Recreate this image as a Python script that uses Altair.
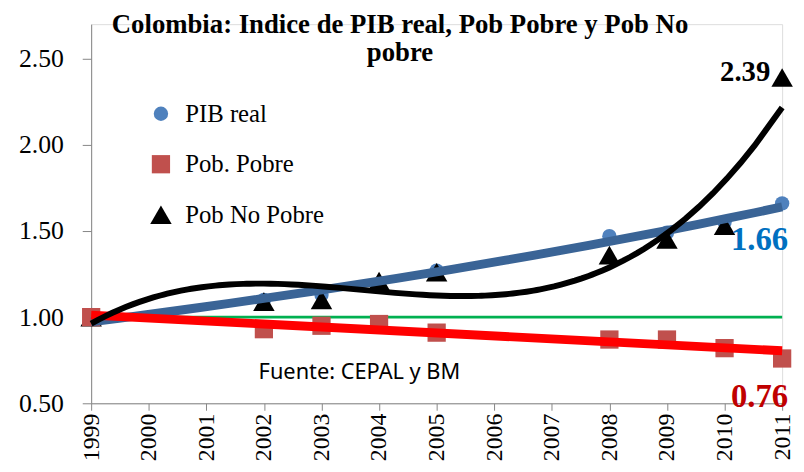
import altair as alt
import pandas as pd

years = [1999, 2002, 2003, 2004, 2005, 2008, 2009, 2010, 2011]
pib_real = [1.00, 1.10, 1.13, 1.19, 1.27, 1.47, 1.49, 1.55, 1.66]
pob_pobre = [1.00, 0.93, 0.95, 0.96, 0.91, 0.87, 0.87, 0.82, 0.76]
pob_no_pobre = [1.00, 1.09, 1.10, 1.21, 1.26, 1.36, 1.45, 1.53, 2.39]

series_names = ["PIB real", "Pob. Pobre", "Pob No Pobre"]
series_values = [pib_real, pob_pobre, pob_no_pobre]
marker_colors = ["#4F81BD", "#C0504D", "#000000"]
marker_shapes = ["circle", "square", "triangle-up"]
marker_sizes = [210, 470, 420]

fuente_text = ["Fuente: CEPAL y BM"]
base_line = [1.0]

rows = []
for name, vals in zip(series_names, series_values):
    for y, v in zip(years, vals):
        rows.append({"anio": y, "valor": v, "serie": name})
df = pd.DataFrame(rows)

SERIF = "Liberation Serif"

x_enc = alt.X("anio:Q", scale=alt.Scale(domain=[1999, 2011], nice=False, zero=False),
              axis=alt.Axis(values=list(range(1999, 2012)), format="d", title=None,
                            labelAngle=-90, labelFont=SERIF, labelFontSize=24,
                            labelColor="#000000", labelPadding=3, tickSize=7,
                            tickColor="#868686", domainColor="#868686", grid=False,
                            labelFlush=False, labelOverlap=False))
y_enc = alt.Y("valor:Q", scale=alt.Scale(domain=[0.5, 2.7], nice=False, zero=False),
              axis=alt.Axis(values=[0.5, 1.0, 1.5, 2.0, 2.5], format=".2f", title=None,
                            labelFont=SERIF, labelFontSize=26, labelColor="#000000",
                            labelPadding=19, tickSize=9, tickColor="#868686",
                            domainColor="#868686", grid=False, labelFlush=False))

base = alt.Chart(df)

green = alt.Chart(pd.DataFrame({"nivel": base_line})).mark_rule(
    color="#00B050", strokeWidth=3
).encode(x=alt.datum(1999), x2=alt.datum(2011), y="nivel:Q")

markers = base.mark_point(filled=True, opacity=1).encode(
    x=x_enc, y=y_enc,
    color=alt.Color("serie:N", scale=alt.Scale(domain=series_names, range=marker_colors),
                    legend=alt.Legend(title=None, orient="none", legendX=58, legendY=78,
                                      labelFont=SERIF, labelFontSize=25, labelColor="#000000",
                                      symbolSize=220, symbolOpacity=1, rowPadding=25,
                                      labelOffset=12, symbolStrokeWidth=0)),
    shape=alt.Shape("serie:N", scale=alt.Scale(domain=series_names, range=marker_shapes)),
    size=alt.Size("serie:N", scale=alt.Scale(domain=series_names, range=marker_sizes), legend=None),
    order=alt.Order("serie:N"),
)

blue_fit = base.transform_filter(alt.datum.serie == "PIB real").transform_regression(
    "anio", "valor", method="exp"
).mark_line(color="#3A6496", strokeWidth=9).encode(x="anio:Q", y="valor:Q")

red_fit = base.transform_filter(alt.datum.serie == "Pob. Pobre").transform_regression(
    "anio", "valor", method="linear"
).mark_line(color="#FF0000", strokeWidth=9).encode(x="anio:Q", y="valor:Q")

black_fit = base.transform_filter(alt.datum.serie == "Pob No Pobre").transform_regression(
    "anio", "valor", method="poly", order=3
).mark_line(color="#000000", strokeWidth=6).encode(x="anio:Q", y="valor:Q")

last = base.transform_filter(alt.datum.anio == 2011)

lab_nopobre = last.transform_filter(alt.datum.serie == "Pob No Pobre").mark_text(
    font=SERIF, fontSize=29, fontWeight="bold", color="#000000", align="right",
    baseline="middle", dx=-12, dy=-6
).encode(x="anio:Q", y="valor:Q", text=alt.Text("valor:Q", format=".2f"))

lab_pib = last.transform_filter(alt.datum.serie == "PIB real").mark_text(
    font=SERIF, fontSize=33, fontWeight="bold", color="#0070C0", align="right",
    baseline="middle", dx=6, dy=37
).encode(x="anio:Q", y="valor:Q", text=alt.Text("valor:Q", format=".2f"))

lab_pobre = last.transform_filter(alt.datum.serie == "Pob. Pobre").mark_text(
    font=SERIF, fontSize=33, fontWeight="bold", color="#C00000", align="right",
    baseline="middle", dx=6, dy=39
).encode(x="anio:Q", y="valor:Q", text=alt.Text("valor:Q", format=".2f"))

fuente = alt.Chart(pd.DataFrame({"t": fuente_text})).mark_text(
    font="Noto Sans", fontSize=22, fontWeight="normal", color="#000000",
    align="center", baseline="middle"
).encode(x=alt.value(271), y=alt.value(351), text="t:N")

chart = alt.layer(
    green, markers, blue_fit, red_fit, black_fit, lab_nopobre, lab_pib, lab_pobre, fuente
).properties(
    width=698, height=383,
    title=alt.TitleParams(
        text=["Colombia: Indice de PIB real, Pob Pobre y Pob No", "pobre"],
        font=SERIF, fontSize=27, fontWeight="bold", color="#000000",
        anchor="middle", dx=-37, lineHeight=28, offset=0, dy=43,
    ),
    autosize=alt.AutoSizeParams(type="none"),
    padding={"left": 84, "top": 14, "right": 14, "bottom": 58},
).configure_view(stroke=None).configure(background="#FFFFFF")

chart.save("out.html", embed_options={"renderer": "svg", "actions": False})
